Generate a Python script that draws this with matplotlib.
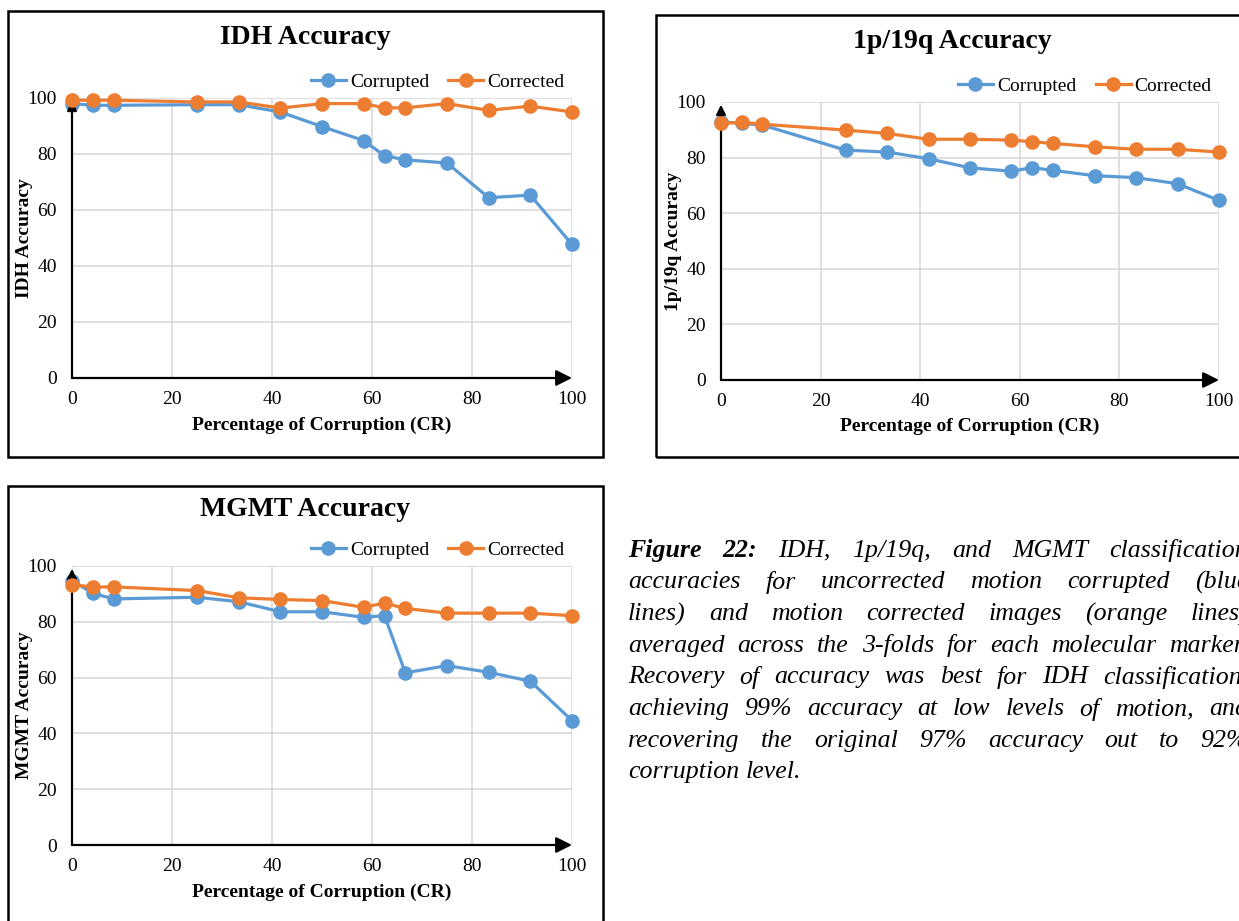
import matplotlib
matplotlib.use("Agg")
import matplotlib.pyplot as plt
from matplotlib.patches import Rectangle


# =========================
# DATI
# =========================

cr = [0, 4.17, 8.33, 25, 33.33, 41.67, 50, 58.33, 62.5, 66.67, 75, 83.33, 91.67, 100]

idh_corrupted = [98.0, 97.4, 97.4, 97.6, 97.6, 95.0, 89.8, 84.8, 79.4, 77.9, 76.8, 64.4, 65.3, 47.7]
idh_corrected = [99.2, 99.2, 99.2, 98.6, 98.6, 96.4, 98.0, 98.0, 96.5, 96.5, 98.0, 95.6, 97.1, 95.0]

p19q_corrupted = [92.9, 92.3, 91.7, 82.7, 82.0, 79.6, 76.3, 75.1, 76.4, 75.4, 73.5, 72.8, 70.6, 64.6]
p19q_corrected = [92.3, 92.7, 92.0, 89.9, 88.7, 86.6, 86.6, 86.3, 85.7, 85.1, 83.9, 83.0, 83.0, 82.0]

mgmt_corrupted = [94.8, 90.2, 88.2, 88.8, 87.2, 83.6, 83.6, 81.6, 82.2, 61.7, 64.3, 61.9, 58.7, 44.6]
mgmt_corrected = [93.3, 92.5, 92.5, 91.2, 88.6, 88.0, 87.6, 85.2, 86.7, 84.8, 83.1, 83.1, 83.1, 82.2]

ticks = [0, 20, 40, 60, 80, 100]

caption_lines = [
    "Figure 22: IDH, 1p/19q, and MGMT classification",
    "accuracies for uncorrected motion corrupted (blue",
    "lines) and motion corrected images (orange lines)",
    "averaged across the 3-folds for each molecular marker.",
    "Recovery of accuracy was best for IDH classification,",
    "achieving 99% accuracy at low levels of motion, and",
    "recovering the original 97% accuracy out to 92%",
    "corruption level.",
]


# =========================
# STILE
# =========================

plt.rcParams["font.family"] = ["Liberation Serif", "DejaVu Serif"]

BLUE = "#5B9BD5"
ORANGE = "#ED7D31"
GRID = "#D9D9D9"
FS = 14

W, H = 1239, 921
fig = plt.figure(figsize=(W / 100, H / 100), dpi=100)


def px_axes(x0, y0, x1, y1):
    return fig.add_axes([x0 / W, 1 - y1 / H, (x1 - x0) / W, (y1 - y0) / H])


def frame(x0, y0, x1, y1):
    fig.patches.append(Rectangle((x0 / W, 1 - y1 / H), (x1 - x0) / W, (y1 - y0) / H,
                                 transform=fig.transFigure, fill=False,
                                 edgecolor="black", linewidth=1.8))


def draw_panel(box, fbox, title, title_xy, ylabel, corrupted, corrected):
    frame(*fbox)
    fig.text(title_xy[0] / W, 1 - title_xy[1] / H, title, ha="center", va="center",
             fontsize=20, fontweight="bold")

    ax = px_axes(*box)
    ax.set_xlim(0, 100)
    ax.set_ylim(0, 100)
    ax.set_xticks(ticks)
    ax.set_yticks(ticks)
    ax.tick_params(length=0, labelsize=FS)
    ax.tick_params(axis="y", pad=11)
    ax.tick_params(axis="x", pad=9)
    for s in ax.spines.values():
        s.set_visible(False)
    ax.grid(True, color=GRID, linewidth=1.2)
    ax.set_axisbelow(True)

    ax.plot(cr, corrupted, "-o", color=BLUE, lw=2.3, ms=9.5, label="Corrupted",
            clip_on=False, zorder=3)
    ax.annotate("", xy=(100, 0), xytext=(0, 0), annotation_clip=False,
                arrowprops=dict(arrowstyle="-|>", color="black", lw=1.6,
                                mutation_scale=24, shrinkA=0, shrinkB=0), zorder=4)
    ax.annotate("", xy=(0, 99), xytext=(0, 0), annotation_clip=False,
                arrowprops=dict(arrowstyle="-|>", color="black", lw=1.6,
                                mutation_scale=14, shrinkA=0, shrinkB=0), zorder=4)
    ax.plot(cr, corrected, "-o", color=ORANGE, lw=2.3, ms=9.5, label="Corrected",
            clip_on=False, zorder=5)

    ax.text(-0.095, 0.5, ylabel, transform=ax.transAxes, rotation=90,
            ha="center", va="center", fontsize=FS, fontweight="bold")
    ax.text(0.5, -0.168, "Percentage of Corruption (CR)", transform=ax.transAxes,
            ha="center", va="center", fontsize=FS, fontweight="bold")

    ax.legend(loc="center right", bbox_to_anchor=(0.985, 1.058), ncol=2,
              frameon=False, fontsize=FS, handlelength=1.8, columnspacing=1.0,
              handletextpad=0.2, borderaxespad=0, borderpad=0)
    return ax


draw_panel((72, 98, 572, 378), (8, 11, 603, 457), "IDH Accuracy", (305, 38),
           "IDH Accuracy", idh_corrupted, idh_corrected)
draw_panel((721, 102, 1219, 380), (656, 15, 1250, 457), "1p/19q Accuracy", (952, 42),
           "1p/19q Accuracy", p19q_corrupted, p19q_corrected)
draw_panel((72, 566, 572, 845), (8, 486, 603, 935), "MGMT Accuracy", (305, 510),
           "MGMT Accuracy", mgmt_corrupted, mgmt_corrected)


# =========================
# DIDASCALIA (giustificata)
# =========================

renderer = fig.canvas.get_renderer()
left, right = 628, 1248
y0, step = 548, 31.7
cap_size = 18.6

probe = fig.text(0, 0, "a b", fontsize=cap_size, style="italic")
probe_a = fig.text(0, 0, "a", fontsize=cap_size, style="italic")
space = probe.get_window_extent(renderer).width - 2 * probe_a.get_window_extent(renderer).width
probe.remove()
probe_a.remove()

for i, line in enumerate(caption_lines):
    words = line.split(" ")
    y = 1 - (y0 + i * step) / H
    objs = []
    for j, w in enumerate(words):
        bold = i == 0 and j < 2
        t = fig.text(0, y, w, fontsize=cap_size, style="italic",
                     fontweight="bold" if bold else "normal", va="center_baseline")
        objs.append(t)
    widths = [t.get_window_extent(renderer).width for t in objs]
    if i < len(caption_lines) - 1 and len(words) > 1:
        gap = max((right - left - sum(widths)) / (len(words) - 1), space * 0.8)
    else:
        gap = space
    x = left
    for t, wd in zip(objs, widths):
        t.set_x(x / W)
        x += wd + gap

fig.savefig("out.png", dpi=100)
